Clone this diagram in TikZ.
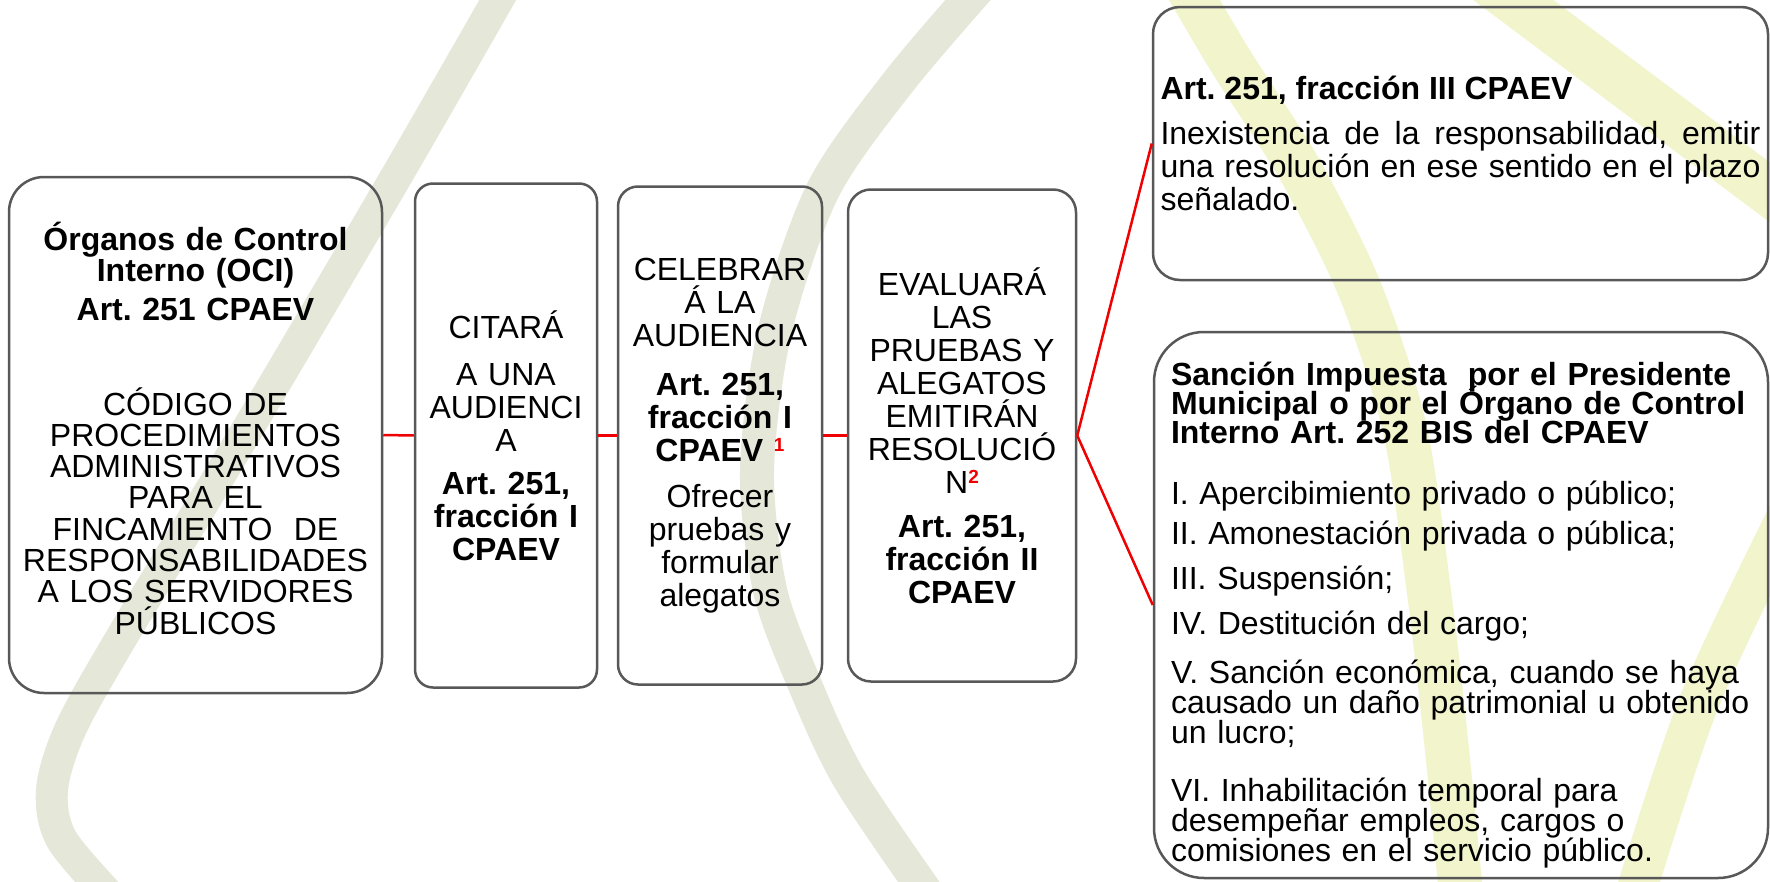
\documentclass[tikz,border=0pt]{standalone}
\usepackage{fontspec}
\setmainfont{Liberation Sans}
\setlength{\parindent}{0pt}
\hyphenpenalty=10000
\exhyphenpenalty=10000
\lineskiplimit=-1000pt
\frenchspacing
\definecolor{bandgray}{RGB}{229,231,216}
\definecolor{bandyellow}{RGB}{242,244,204}
\definecolor{boxline}{RGB}{88,88,88}
\definecolor{linkred}{RGB}{240,0,0}
\newcommand{\redsup}[1]{\raisebox{10pt}{\fontsize{19}{19}\selectfont\bfseries\color{linkred}#1}}
\newcommand{\boxfont}{\fontsize{32}{33}\selectfont\frenchspacing\lineskiplimit=-1000pt\relax}
\tikzset{
  box/.style={draw=boxline, line width=2.5pt, inner sep=0pt, align=center,
    font=\boxfont},
  link/.style={draw=linkred, line width=2.5pt},
  grayband/.style={draw=bandgray, line width=#1},
  yellowband/.style={draw=bandyellow, line width=#1},
}
\begin{document}
\begin{tikzpicture}[x=1pt,y=-1pt]
\useasboundingbox (0,0) rectangle (1770,881);
\fill[white] (0,0) rectangle (1770,881);
\begin{scope}
\clip (0,0) rectangle (1770,881);
\draw[grayband=32pt] plot[smooth] coordinates {(512,-25) (400,170) (250,425) (120,640) (70,730) (52,790) (62,840) (118,905)};
\draw[grayband=34pt] plot[smooth] coordinates {(990,-25) (900,80) (823,190) (775,330) (757,470) (770,590) (805,685) (850,780) (935,905)};
\draw[yellowband=44pt] plot[smooth] coordinates {(1180,-25) (1230,60) (1300,170) (1360,290) (1405,430) (1430,600) (1447,750) (1462,905)};
\draw[yellowband=48pt] plot[smooth] coordinates {(1480,-25) (1620,80) (1800,215)};
\draw[yellowband=40pt] plot[smooth] coordinates {(1800,490) (1700,700) (1632,905)};
\end{scope}

\node[box, rounded corners=35pt, minimum width=373pt, minimum height=516pt, text width=360pt] (b1) at (195.5,435)
 {{\fontsize{32}{31.3}\selectfont\textbf{Órganos de Control}\\\textbf{Interno (OCI)}\\[8pt]\textbf{Art. 251 CPAEV}\\[63pt]CÓDIGO DE\\PROCEDIMIENTOS\\ADMINISTRATIVOS\\PARA EL\\FINCAMIENTO\ \ DE\\RESPONSABILIDADES\\A LOS SERVIDORES\\PÚBLICOS\rule[-14pt]{0pt}{14pt}\par}};

\node[box, rounded corners=18pt, minimum width=182pt, minimum height=504pt, text width=175pt] (b2) at (506,435.5)
 {CITARÁ\\[14pt]A UNA\\AUDIENCI\\A\\[10pt]\textbf{Art. 251,}\\\textbf{fracción I}\\\textbf{CPAEV}};

\node[box, rounded corners=20pt, minimum width=204pt, minimum height=498pt, text width=195pt] (b3) at (720,435.5)
 {CELEBRAR\\Á LA\\AUDIENCIA\\[16pt]\textbf{Art. 251,}\\\textbf{fracción I}\\\textbf{CPAEV} \redsup{1}\\[13pt]Ofrecer\\pruebas y\\formular\\alegatos};

\node[box, rounded corners=23pt, minimum width=228pt, minimum height=492pt, text width=215pt] (b4) at (962,435.5)
 {EVALUARÁ\\LAS\\PRUEBAS Y\\ALEGATOS\\EMITIRÁN\\RESOLUCIÓ\\N\redsup{2}\\[11pt]\textbf{Art. 251,}\\\textbf{fracción II}\\\textbf{CPAEV}};

\node[box, align=justify, rounded corners=27pt, minimum width=615pt, minimum height=273pt, text width=600pt] (b5) at (1460.5,143.5)
 {{\bfseries Art. 251, fracción III CPAEV\par}\vspace{12pt}Inexistencia de la responsabilidad, emitir una resolución en ese sentido en el plazo señalado.};

\node[box, align=left, rounded corners=50pt, minimum width=614pt, minimum height=546pt, text width=580pt] (b6) at (1461,605)
 {{\fontsize{32}{29}\selectfont\bfseries\rule{0pt}{43pt}Sanción Impuesta\ \ por el Presidente\\Municipal o por el Órgano de Control\\Interno Art. 252 BIS del CPAEV\par}\vspace{31pt}%
 {\fontsize{32}{30}\selectfont I. Apercibimiento privado o público;\\[10pt]II. Amonestación privada o pública;\\[15pt]III. Suspensión;\\[15pt]IV. Destitución del cargo;\\[19pt]V. Sanción económica, cuando se haya\\causado un daño patrimonial u obtenido\\un lucro;\\[28pt]VI. Inhabilitación temporal para\\desempeñar empleos, cargos o\\comisiones en el servicio público.\par}};

\draw[link] (b1.east) -- (b2.west);
\draw[link] (b2.east) -- (b3.west);
\draw[link] (b3.east) -- (b4.west);
\draw[link] (b4.east) -- (b5.west);
\draw[link] (b4.east) -- (b6.west);
\end{tikzpicture}
\end{document}
